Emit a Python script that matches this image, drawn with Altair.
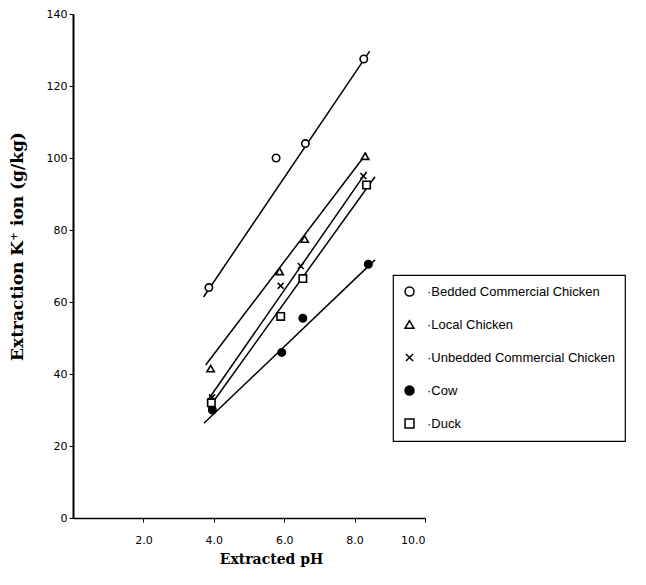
import altair as alt
import pandas as pd

series = ["Bedded Commercial Chicken", "Local Chicken", "Unbedded Commercial Chicken", "Cow", "Duck"]

bedded_x = [3.86, 5.77, 6.60, 8.26]
bedded_y = [64.0, 100.0, 104.0, 127.5]
local_x = [3.91, 5.87, 6.58, 8.30]
local_y = [41.5, 68.5, 77.5, 100.5]
unbedded_x = [3.95, 5.90, 6.47, 8.25]
unbedded_y = [33.5, 64.5, 70.0, 95.0]
cow_x = [3.96, 5.93, 6.53, 8.39]
cow_y = [30.0, 46.0, 55.5, 70.5]
duck_x = [3.93, 5.90, 6.53, 8.34]
duck_y = [32.0, 56.0, 66.5, 92.5]

# fitted line end points
bedded_fit_x = [3.71, 8.43]
bedded_fit_y = [61.4, 129.7]
local_fit_x = [3.77, 8.34]
local_fit_y = [42.5, 101.3]
unbedded_fit_x = [3.85, 8.34]
unbedded_fit_y = [33.0, 96.2]
cow_fit_x = [3.72, 8.58]
cow_fit_y = [26.3, 71.7]
duck_fit_x = [3.85, 8.58]
duck_fit_y = [30.5, 94.8]

x_ticks = [2, 4, 6, 8, 10]
y_ticks = [0, 20, 40, 60, 80, 100, 120, 140]

pts_sets = [(bedded_x, bedded_y), (local_x, local_y), (unbedded_x, unbedded_y), (cow_x, cow_y), (duck_x, duck_y)]
fit_sets = [(bedded_fit_x, bedded_fit_y), (local_fit_x, local_fit_y), (unbedded_fit_x, unbedded_fit_y),
            (cow_fit_x, cow_fit_y), (duck_fit_x, duck_fit_y)]

pts = pd.DataFrame([{"series": s, "x": x, "y": y}
                    for s, (xs, ys) in zip(series, pts_sets) for x, y in zip(xs, ys)])
fits = pd.DataFrame([{"series": s, "x": x, "y": y}
                     for s, (xs, ys) in zip(series, fit_sets) for x, y in zip(xs, ys)])

xscale = alt.Scale(domain=[0, 10], nice=False, zero=False)
yscale = alt.Scale(domain=[0, 140], nice=False)

xaxis = alt.Axis(values=x_ticks, format=".1f", title="Extracted pH", grid=False,
                 labelFont="DejaVu Sans", labelFontSize=11, labelPadding=12,
                 titleFont="DejaVu Serif", titleFontSize=14, titleFontWeight="bold",
                 titleX=198, titleY=34, tickSize=4, domainWidth=1.5, domainColor="black",
                 tickColor="black", labelColor="black", titleColor="black")
yaxis = alt.Axis(values=y_ticks, title="Extraction K⁺ ion (g/kg)", grid=False,
                 labelFont="DejaVu Sans", labelFontSize=11, labelPadding=2,
                 titleFont="DejaVu Serif", titleFontSize=17, titleFontWeight="bold",
                 titleX=-47, titleY=232, tickSize=4, domainWidth=2, domainColor="black",
                 tickColor="black", labelColor="black", titleColor="black")

lines = alt.Chart(fits).mark_line(color="black", strokeWidth=1.5).encode(
    x=alt.X("x:Q", scale=xscale, axis=xaxis),
    y=alt.Y("y:Q", scale=yscale, axis=yaxis),
    detail="series:N",
)

xpath = "M-0.8,-0.8L0.8,0.8M-0.8,0.8L0.8,-0.8"
legend = alt.Legend(title=None, orient="none", legendX=320, legendY=261,
                    labelExpr="'·' + datum.label", labelLimit=400)
points = alt.Chart(pts).mark_point(size=55, strokeWidth=1.6, opacity=1).encode(
    x=alt.X("x:Q", scale=xscale),
    y=alt.Y("y:Q", scale=yscale),
    shape=alt.Shape("series:N", scale=alt.Scale(domain=series,
                    range=["circle", "triangle-up", xpath, "circle", "square"]), legend=legend),
    fill=alt.Fill("series:N", scale=alt.Scale(domain=series,
                  range=["white", "white", "white", "black", "white"]), legend=legend),
    stroke=alt.Stroke("series:N", scale=alt.Scale(domain=series,
                      range=["black", "black", "black", "black", "black"]), legend=legend),
)

chart = alt.layer(lines, points).properties(
    width=352, height=504,
    autosize=alt.AutoSizeParams(type="none"),
    padding={"left": 65, "top": 6, "right": 211, "bottom": 55},
).configure_view(stroke=None).configure_legend(
    strokeColor="black", strokeWidth=1.2, padding=10, cornerRadius=0,
    labelFont="Liberation Sans", labelFontSize=13, labelColor="black",
    symbolSize=80, symbolStrokeWidth=1.5, rowPadding=18, labelOffset=11, fillColor="white",
)

chart.save("out.html", embed_options={"renderer": "svg", "actions": False})
